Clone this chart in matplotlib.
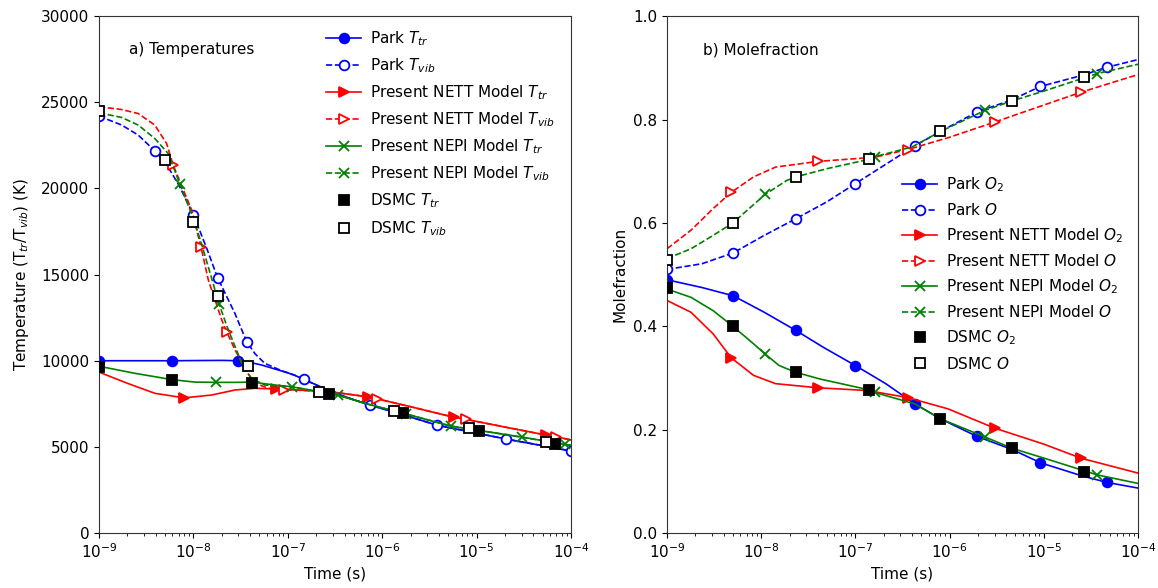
import numpy as np
import matplotlib
matplotlib.use("Agg")
import matplotlib.pyplot as plt

# ---------------- LEFT: temperatures ----------------
park_ttr_t = [1e-9, 2e-9, 4e-9, 6e-9, 1e-8, 2e-8, 3e-8, 4e-8, 5.3e-8, 7e-8, 1e-7, 1.2e-7, 1.47e-7,
              2e-7, 2.7e-7, 4e-7, 7.4e-7, 1e-6, 2e-6, 3.8e-6, 1e-5, 2.07e-5, 5e-5, 1e-4]
park_ttr_v = [10000, 10000, 10000, 10000, 10010, 10020, 10000, 9900, 9750, 9550, 9300, 9140, 8920,
              8600, 8260, 7920, 7420, 7220, 6730, 6260, 5800, 5450, 5070, 4760]
park_ttr_mk = [1e-9, 6e-9, 3e-8]

park_tvib_t = [1e-9, 1.74e-9, 2.6e-9, 3.9e-9, 5e-9, 7e-9, 1e-8, 1.4e-8, 1.8e-8, 2.75e-8, 3.67e-8,
               4.5e-8, 5.7e-8, 8.6e-8, 1.2e-7, 1.47e-7, 2e-7, 2.7e-7, 4e-7, 7.4e-7, 1e-6, 2e-6,
               3.8e-6, 1e-5, 2.07e-5, 5e-5, 1e-4]
park_tvib_v = [24200, 23680, 23100, 22180, 21550, 20200, 18480, 16450, 14830, 12750, 11100,
               10400, 9850, 9420, 9150, 8920, 8600, 8260, 7920, 7420, 7220, 6730,
               6260, 5800, 5450, 5070, 4760]
park_tvib_mk = [1e-9, 3.9e-9, 1e-8, 1.8e-8, 3.67e-8, 1.47e-7, 7.4e-7, 3.8e-6, 2.07e-5, 1e-4]

nett_ttr_t = [1e-9, 2e-9, 3.9e-9, 8e-9, 1.56e-8, 2.75e-8, 4.5e-8, 7.5e-8, 1e-7, 2.8e-7, 7e-7,
              8.85e-7, 2e-6, 5.8e-6, 7.7e-6, 2e-5, 5.4e-5, 6.9e-5, 1e-4]
nett_ttr_v = [9340, 8690, 8110, 7845, 8010, 8300, 8400, 8360, 8330, 8200, 7910,
              7790, 7330, 6714, 6600, 6150, 5690, 5590, 5400]
nett_ttr_mk = [8e-9, 7.5e-8, 7e-7, 5.8e-6, 5.4e-5]

nett_tvib_t = [1e-9, 1.7e-9, 2.6e-9, 3.9e-9, 5.2e-9, 6.1e-9, 9.6e-9, 1.2e-8, 1.44e-8, 2e-8, 2.25e-8,
               2.75e-8, 3.25e-8, 3.5e-8, 4.5e-8, 6.2e-8, 9.2e-8, 2.8e-7, 7e-7, 8.85e-7, 2e-6,
               5.8e-6, 7.7e-6, 2e-5, 5.4e-5, 6.9e-5, 1e-4]
nett_tvib_v = [24740, 24590, 24350, 23680, 22610, 21360, 18740, 16620, 14680, 12360, 11680,
               10650, 9900, 9500, 8700, 8400, 8330, 8200, 7910, 7790, 7330,
               6714, 6600, 6150, 5690, 5590, 5400]
nett_tvib_mk = [6.1e-9, 1.2e-8, 2.25e-8, 9.2e-8, 8.85e-7, 7.7e-6, 6.9e-5]

nepi_ttr_t = [1e-9, 2.4e-9, 6e-9, 1.04e-8, 1.72e-8, 2.75e-8, 4.14e-8, 7.3e-8, 1.1e-7, 3.4e-7,
              7.4e-7, 1.68e-6, 5.3e-6, 2e-5, 3.18e-5, 8.7e-5, 1e-4]
nepi_ttr_v = [9680, 9270, 8900, 8760, 8745, 8745, 8760, 8590, 8490, 8000,
              7450, 6950, 6210, 5720, 5550, 5140, 5090]
nepi_ttr_mk = [1.72e-8, 3.4e-7, 5.3e-6, 8.7e-5]

nepi_tvib_t = [1e-9, 1.74e-9, 2.6e-9, 3.9e-9, 5.4e-9, 7.2e-9, 1e-8, 1.2e-8, 1.5e-8, 1.87e-8,
               2.3e-8, 2.75e-8, 3.25e-8, 4.1e-8, 5.7e-8, 1.1e-7, 3.4e-7, 7.4e-7, 1.8e-6,
               5.3e-6, 2e-5, 3.0e-5, 1e-4]
nepi_tvib_v = [24390, 24120, 23680, 22900, 22030, 20250, 18250, 16900, 15100, 13290,
               11900, 10850, 9850, 8980, 8590, 8490, 8000, 7450, 6910,
               6210, 5720, 5560, 5090]
nepi_tvib_mk = [7.2e-9, 1.87e-8, 1.1e-7, 1.8e-6, 3.0e-5]

dsmc_ttr_t = [1e-9, 6e-9, 4.15e-8, 2.7e-7, 1.68e-6, 1.05e-5, 6.8e-5]
dsmc_ttr_v = [9660, 8900, 8720, 8070, 6950, 5940, 5170]
dsmc_tvib_t = [1e-9, 5e-9, 1e-8, 1.8e-8, 3.76e-8, 2.12e-7, 1.33e-6, 8.4e-6, 5.4e-5]
dsmc_tvib_v = [24510, 21680, 18060, 13770, 9710, 8200, 7100, 6070, 5260]

# ---------------- RIGHT: mole fractions ----------------
park_o2_t = [1e-9, 2.35e-9, 5.05e-9, 1.08e-8, 2.33e-8, 4.6e-8, 1e-7, 2.1e-7, 4.26e-7, 8e-7,
             1.95e-6, 4.7e-6, 9.2e-6, 2.5e-5, 4.66e-5, 1e-4]
park_o2_v = [0.490, 0.475, 0.459, 0.427, 0.392, 0.359, 0.324, 0.289, 0.250, 0.221,
             0.187, 0.161, 0.136, 0.111, 0.098, 0.087]
park_o_t = [1e-9, 2.35e-9, 5.05e-9, 1.08e-8, 2.33e-8, 5e-8, 1e-7, 4.26e-7, 8e-7, 1.95e-6,
            4.57e-6, 9.2e-6, 2.5e-5, 4.66e-5, 1e-4]
park_o_v = [0.510, 0.521, 0.542, 0.576, 0.608, 0.641, 0.676, 0.749, 0.777, 0.8145,
            0.838, 0.864, 0.885, 0.901, 0.916]
park_mk = [1e-9, 5.05e-9, 2.33e-8, 1e-7, 4.26e-7, 1.95e-6, 9.2e-6, 4.66e-5]

nett_o2_t = [1e-9, 1.8e-9, 3.1e-9, 4.8e-9, 8.3e-9, 1.42e-8, 4e-8, 1.35e-7, 3.6e-7, 9.7e-7,
             3e-6, 1e-5, 2.5e-5, 1e-4]
nett_o2_v = [0.450, 0.427, 0.385, 0.339, 0.305, 0.289, 0.281, 0.2757, 0.262, 0.240,
             0.203, 0.172, 0.1446, 0.116]
nett_o_t = [1e-9, 1.8e-9, 3.1e-9, 4.8e-9, 8.3e-9, 1.42e-8, 4e-8, 1.6e-7, 3.6e-7, 9.7e-7,
            3e-6, 1e-5, 2.5e-5, 1e-4]
nett_o_v = [0.550, 0.586, 0.628, 0.659, 0.689, 0.708, 0.719, 0.727, 0.742, 0.765,
            0.795, 0.828, 0.853, 0.887]
nett_mk = [4.8e-9, 4e-8, 3.6e-7, 3e-6, 2.5e-5]

nepi_o2_t = [1e-9, 1.8e-9, 3.1e-9, 5e-9, 7.6e-9, 1.1e-8, 1.55e-8, 2.33e-8, 4.2e-8, 1.4e-7,
             1.6e-7, 4.26e-7, 8e-7, 2.4e-6, 4.6e-6, 1e-5, 3.7e-5, 1e-4]
nepi_o2_v = [0.472, 0.456, 0.430, 0.400, 0.372, 0.3465, 0.324, 0.311, 0.298, 0.277,
             0.272, 0.250, 0.221, 0.1855, 0.164, 0.145, 0.1125, 0.096]
nepi_o_t = [1e-9, 1.8e-9, 3.1e-9, 5e-9, 1.1e-8, 1.86e-8, 2.33e-8, 5e-8, 1.4e-7, 1.6e-7,
            4e-7, 8e-7, 2.4e-6, 4.6e-6, 1e-5, 3.7e-5, 1e-4]
nepi_o_v = [0.531, 0.550, 0.576, 0.600, 0.655, 0.682, 0.689, 0.705, 0.723, 0.728,
            0.747, 0.777, 0.818, 0.836, 0.855, 0.889, 0.907]
nepi_mk = [1.1e-8, 1.6e-7, 2.4e-6, 3.7e-5]

dsmc_x_t = [1e-9, 5e-9, 2.33e-8, 1.4e-7, 8e-7, 4.6e-6, 2.7e-5]
dsmc_o2_v = [0.475, 0.400, 0.311, 0.277, 0.221, 0.164, 0.119]
dsmc_o_v = [0.528, 0.600, 0.689, 0.723, 0.777, 0.836, 0.882]

plt.rcParams['font.family'] = ['DejaVu Sans']
plt.rcParams['font.size'] = 10
plt.rcParams['mathtext.default'] = 'it'

fig = plt.figure(figsize=(11.58, 5.88), dpi=100)
axL = fig.add_axes([0.0855, 0.0935, 0.4076, 0.879])
axR = fig.add_axes([0.576, 0.0935, 0.4067, 0.879])

LW = 1.2
MS = 7


def series(ax, t, v, marks, color, ls, marker, filled, label):
    tt = list(t)
    vv = list(v)
    # marker times that are not on the line list are inserted on the drawn line (log-t)
    for m in marks:
        if m in tt:
            continue
        val = float(np.interp(np.log10(m), np.log10(tt), vv))
        tt.append(m)
        vv.append(val)
    order = np.argsort(tt)
    tt = np.array(tt)[order]
    vv = np.array(vv)[order]
    idx = [int(np.argmin(np.abs(np.log10(tt) - np.log10(m)))) for m in marks]
    fc = color if filled else 'white'
    ax.plot(tt, vv, color=color, ls=ls, lw=LW, marker=marker, ms=MS,
            markevery=idx, mfc=fc, mec=color, mew=1.3, label=label)


def dsmc(ax, t, v, filled, label):
    ax.plot(t, v, ls='none', marker='s', ms=MS, mfc='black' if filled else 'white',
            mec='black', mew=1.3, label=label, zorder=5)


series(axL, park_ttr_t, park_ttr_v, park_ttr_mk, 'blue', '-', 'o', True, 'Park $T_{tr}$')
series(axL, park_tvib_t, park_tvib_v, park_tvib_mk, 'blue', '--', 'o', False, 'Park $T_{vib}$')
series(axL, nett_ttr_t, nett_ttr_v, nett_ttr_mk, 'red', '-', '>', True, 'Present NETT Model $T_{tr}$')
series(axL, nett_tvib_t, nett_tvib_v, nett_tvib_mk, 'red', '--', '>', False, 'Present NETT Model $T_{vib}$')
series(axL, nepi_ttr_t, nepi_ttr_v, nepi_ttr_mk, 'green', '-', 'x', True, 'Present NEPI Model $T_{tr}$')
series(axL, nepi_tvib_t, nepi_tvib_v, nepi_tvib_mk, 'green', '--', 'x', True, 'Present NEPI Model $T_{vib}$')
dsmc(axL, dsmc_ttr_t, dsmc_ttr_v, True, 'DSMC $T_{tr}$')
dsmc(axL, dsmc_tvib_t, dsmc_tvib_v, False, 'DSMC $T_{vib}$')

series(axR, park_o2_t, park_o2_v, park_mk, 'blue', '-', 'o', True, 'Park $O_2$')
series(axR, park_o_t, park_o_v, park_mk, 'blue', '--', 'o', False, 'Park $O$')
series(axR, nett_o2_t, nett_o2_v, nett_mk, 'red', '-', '>', True, 'Present NETT Model $O_2$')
series(axR, nett_o_t, nett_o_v, nett_mk, 'red', '--', '>', False, 'Present NETT Model $O$')
series(axR, nepi_o2_t, nepi_o2_v, nepi_mk, 'green', '-', 'x', True, 'Present NEPI Model $O_2$')
series(axR, nepi_o_t, nepi_o_v, nepi_mk, 'green', '--', 'x', True, 'Present NEPI Model $O$')
dsmc(axR, dsmc_x_t, dsmc_o2_v, True, 'DSMC $O_2$')
dsmc(axR, dsmc_x_t, dsmc_o_v, False, 'DSMC $O$')

for ax in (axL, axR):
    ax.set_xscale('log')
    ax.set_xlim(1e-9, 1e-4)
    ax.set_xlabel('Time (s)', fontsize=11)
    ax.tick_params(labelsize=11)
    for s in ax.spines.values():
        s.set_color('#333333')

axL.set_ylim(0, 30000)
axL.set_yticks([0, 5000, 10000, 15000, 20000, 25000, 30000])
axL.set_ylabel('Temperature (T$_{tr}$/T$_{vib}$) (K)', fontsize=11, labelpad=7)
axR.set_ylim(0, 1.0)
axR.set_yticks([0.0, 0.2, 0.4, 0.6, 0.8, 1.0])
axR.set_ylabel('Molefraction', fontsize=11)

axL.text((129 - 99) / 472, (533 - 49) / 517, 'a) Temperatures', transform=axL.transAxes,
         fontsize=11, va='center', ha='left')
axR.text((703 - 667) / 471, (533 - 50) / 517, 'b) Molefraction', transform=axR.transAxes,
         fontsize=11, va='center', ha='left')

axL.legend(loc='upper left', bbox_to_anchor=((326 - 99) / 472, (533 - 29) / 517),
           frameon=False, fontsize=11, borderpad=0, borderaxespad=0, handlelength=2.3,
           handletextpad=0.6, labelspacing=0.55)
axR.legend(loc='upper left', bbox_to_anchor=((902 - 667) / 471, (533 - 175) / 517),
           frameon=False, fontsize=11, borderpad=0, borderaxespad=0, handlelength=2.3,
           handletextpad=0.6, labelspacing=0.54)

fig.savefig('out.png', dpi=100)
